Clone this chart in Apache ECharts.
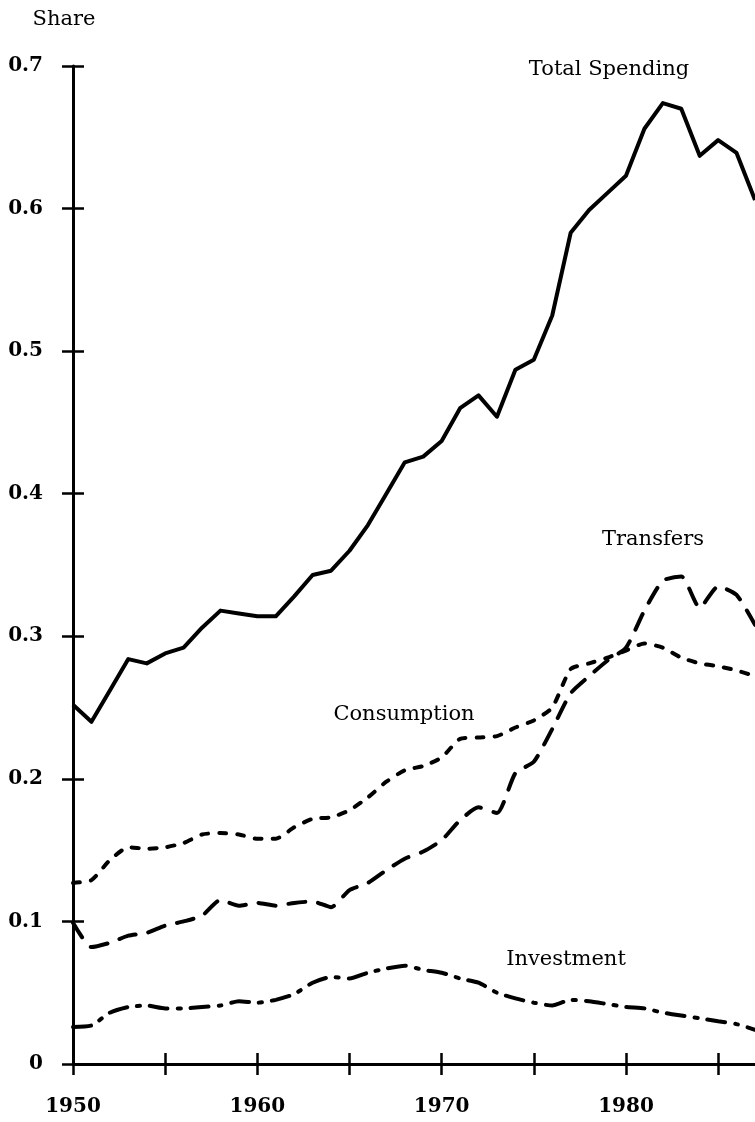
<!DOCTYPE html>
<html>
<head>
<meta charset="utf-8">
<script src="https://cdn.jsdelivr.net/npm/echarts@6/dist/echarts.min.js"></script>
<style>
  html, body { margin: 0; padding: 0; background: #fff; }
  #chart { width: 755px; height: 1122px; }
</style>
</head>
<body>
<div id="chart"></div>
<script>
const years = [1950, 1951, 1952, 1953, 1954, 1955, 1956, 1957, 1958, 1959,
  1960, 1961, 1962, 1963, 1964, 1965, 1966, 1967, 1968, 1969,
  1970, 1971, 1972, 1973, 1974, 1975, 1976, 1977, 1978, 1979,
  1980, 1981, 1982, 1983, 1984, 1985, 1986, 1987]

const totalSpending = [0.252, 0.240, 0.262, 0.284, 0.281, 0.288, 0.292, 0.306, 0.318, 0.316,
  0.314, 0.314, 0.328, 0.343, 0.346, 0.360, 0.378, 0.400, 0.422, 0.426,
  0.437, 0.460, 0.469, 0.454, 0.487, 0.494, 0.525, 0.583, 0.599, 0.611,
  0.623, 0.656, 0.674, 0.670, 0.637, 0.648, 0.639, 0.606]

const transfers = [0.099, 0.082, 0.085, 0.090, 0.092, 0.097, 0.100, 0.104, 0.115, 0.111,
  0.113, 0.111, 0.113, 0.114, 0.110, 0.122, 0.127, 0.136, 0.144, 0.149,
  0.157, 0.171, 0.180, 0.176, 0.204, 0.212, 0.235, 0.260, 0.272, 0.283,
  0.292, 0.318, 0.339, 0.342, 0.320, 0.335, 0.329, 0.308]

const consumption = [0.127, 0.129, 0.143, 0.152, 0.151, 0.152, 0.155, 0.161, 0.162, 0.161,
  0.158, 0.158, 0.166, 0.172, 0.173, 0.178, 0.187, 0.198, 0.206, 0.209,
  0.215, 0.228, 0.229, 0.230, 0.236, 0.241, 0.250, 0.277, 0.281, 0.285,
  0.290, 0.295, 0.292, 0.285, 0.281, 0.279, 0.276, 0.272]

const investment = [0.026, 0.027, 0.036, 0.040, 0.041, 0.039, 0.039, 0.040, 0.041, 0.044,
  0.043, 0.045, 0.049, 0.057, 0.061, 0.060, 0.064, 0.067, 0.069, 0.066,
  0.064, 0.060, 0.057, 0.050, 0.046, 0.043, 0.041, 0.045, 0.044, 0.042,
  0.040, 0.039, 0.036, 0.034, 0.032, 0.030, 0.028, 0.024]

const xTicks = [1950, 1955, 1960, 1965, 1970, 1975, 1980, 1985]
const xLabels = [1950, 1960, 1970, 1980]

const serif = '"DejaVu Serif", serif'

function pairs(vals) {
  return years.map((y, i) => [y, vals[i]])
}

const chart = echarts.init(document.getElementById('chart'))

const tickStyle = { color: '#000', width: 2.5 }

chart.setOption({
  animation: false,
  backgroundColor: '#fff',
  grid: { left: 73, right: 0, top: 66, bottom: 58 },
  xAxis: [{
    type: 'value', min: 1950, max: 1987,
    axisLine: { lineStyle: { color: '#000', width: 3 } },
    axisTick: { customValues: xTicks, length: 11, lineStyle: tickStyle },
    axisLabel: {
      customValues: xLabels, margin: 33,
      color: '#000', fontFamily: serif, fontWeight: 'bold', fontSize: 20,
      formatter: v => String(v)
    },
    splitLine: { show: false }
  }, {
    type: 'value', min: 1950, max: 1987, position: 'bottom',
    axisLine: { show: false },
    axisTick: { customValues: xTicks, inside: true, length: 11, lineStyle: tickStyle },
    axisLabel: { show: false },
    splitLine: { show: false }
  }],
  yAxis: [{
    type: 'value', min: 0, max: 0.7, interval: 0.1,
    axisLine: { show: true, lineStyle: { color: '#000', width: 3 } },
    axisTick: { show: true, length: 11, lineStyle: tickStyle },
    axisLabel: {
      margin: 30, color: '#000', fontFamily: serif, fontWeight: 'bold', fontSize: 20,
      formatter: v => v === 0 ? '0' : v.toFixed(1)
    },
    splitLine: { show: false }
  }, {
    type: 'value', min: 0, max: 0.7, interval: 0.1, position: 'left',
    axisLine: { show: false },
    axisTick: { show: true, inside: true, length: 11, lineStyle: tickStyle },
    axisLabel: { show: false },
    splitLine: { show: false }
  }],
  series: [
    {
      name: 'Total Spending', type: 'line', data: pairs(totalSpending),
      showSymbol: false,
      lineStyle: { color: '#000', width: 4, join: 'round' }
    },
    {
      name: 'Transfers', type: 'line', data: pairs(transfers),
      showSymbol: false, smooth: 0.2,
      lineStyle: { color: '#000', width: 4, type: [17, 13], cap: 'round' }
    },
    {
      name: 'Consumption', type: 'line', data: pairs(consumption),
      showSymbol: false, smooth: 0.2,
      lineStyle: { color: '#000', width: 4, type: [7, 11], cap: 'round' }
    },
    {
      name: 'Investment', type: 'line', data: pairs(investment),
      showSymbol: false, smooth: 0.2,
      lineStyle: { color: '#000', width: 4, type: [18, 10, 3, 10], cap: 'round' }
    }
  ],
  graphic: [
    { type: 'text', x: 64, y: 20, style: { text: 'Share', fill: '#000', font: '21px ' + serif, align: 'center', verticalAlign: 'middle' } },
    { type: 'text', x: 609, y: 70, style: { text: 'Total Spending', fill: '#000', font: '21px ' + serif, align: 'center', verticalAlign: 'middle' } },
    { type: 'text', x: 653, y: 540, style: { text: 'Transfers', fill: '#000', font: '21px ' + serif, align: 'center', verticalAlign: 'middle' } },
    { type: 'text', x: 404, y: 715, style: { text: 'Consumption', fill: '#000', font: '21px ' + serif, align: 'center', verticalAlign: 'middle' } },
    { type: 'text', x: 566, y: 960, style: { text: 'Investment', fill: '#000', font: '21px ' + serif, align: 'center', verticalAlign: 'middle' } }
  ]
})
</script>
</body>
</html>
